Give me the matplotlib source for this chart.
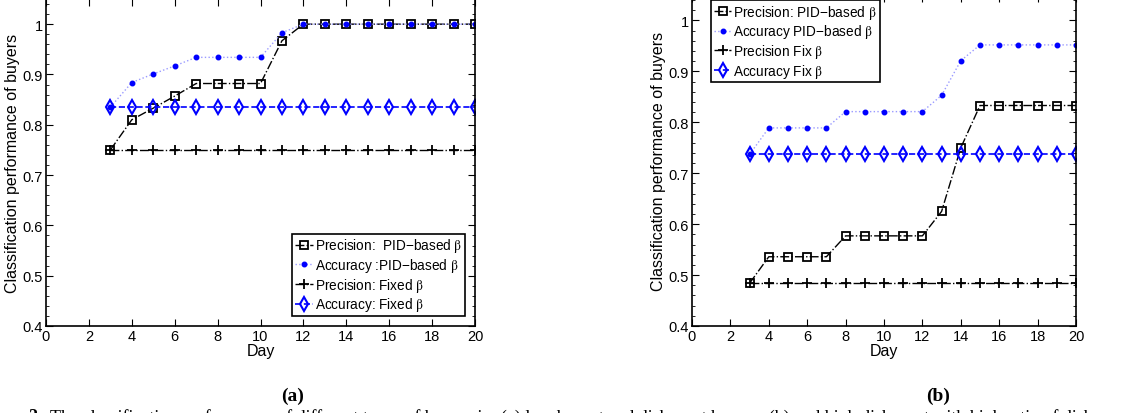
import matplotlib
matplotlib.use('Agg')
import matplotlib.pyplot as plt
from matplotlib.ticker import MultipleLocator

plt.rcParams['font.family'] = ['Liberation Sans', 'DejaVu Sans']
plt.rcParams['mathtext.fontset'] = 'stix'

days = list(range(3, 21))

# (a)
prec_pid_a = [0.75, 0.81, 0.833, 0.857, 0.882, 0.882, 0.882, 0.882, 0.967,
              1, 1, 1, 1, 1, 1, 1, 1, 1]
acc_pid_a = [0.835, 0.884, 0.901, 0.917, 0.934, 0.934, 0.934, 0.934, 0.983,
             1, 1, 1, 1, 1, 1, 1, 1, 1]
prec_fix_a = [0.75] * 18
acc_fix_a = [0.835] * 18
labels_a = ['Precision:  PID\u2212based $\\mathrm{\\beta}$', 'Accuracy :PID\u2212based $\\mathrm{\\beta}$',
            'Precision: Fixed $\\mathrm{\\beta}$', 'Accuracy: Fixed $\\mathrm{\\beta}$']

# (b)
prec_pid_b = [0.484, 0.536, 0.536, 0.536, 0.536, 0.577, 0.577, 0.577, 0.577, 0.577,
              0.625, 0.75, 0.833, 0.833, 0.833, 0.833, 0.833, 0.833]
acc_pid_b = [0.737, 0.789, 0.789, 0.789, 0.789, 0.821, 0.821, 0.821, 0.821, 0.821,
             0.853, 0.921, 0.952, 0.952, 0.952, 0.952, 0.952, 0.952]
prec_fix_b = [0.484] * 18
acc_fix_b = [0.737] * 18
labels_b = ['Precision: PID\u2212based $\\mathrm{\\beta}$', 'Accuracy PID\u2212based $\\mathrm{\\beta}$',
            'Precision Fix $\\mathrm{\\beta}$', 'Accuracy Fix $\\mathrm{\\beta}$']

fig = plt.figure(figsize=(11.27, 4.14), dpi=100)
ax1 = fig.add_axes([46 / 1127, 87 / 414, 429 / 1127, 327 / 414])
ax2 = fig.add_axes([692 / 1127, 87 / 414, 384 / 1127, 331 / 414])


def draw(ax, pp, ap, pf, af, labels):
    ax.plot(days, pp, color='black', ls='-.', lw=1, marker='s', ms=5.5,
            mfc='none', mec='black', mew=1.3, label=labels[0])
    ax.plot(days, ap, color='#9a9aff', ls=':', lw=1, marker='.', ms=6.5,
            mfc='#0000ff', mec='#0000ff', label=labels[1])
    ax.plot(days, pf, color='black', ls='-.', lw=1, marker='+', ms=7.5,
            mew=1.3, label=labels[2])
    ax.plot(days, af, color='#0000ff', ls='--', lw=1.2, marker='d', ms=7,
            mfc='none', mec='#0000ff', mew=1.5, label=labels[3])
    ax.set_xlim(0, 20)
    ax.set_ylim(0.4, 1.05)
    ax.xaxis.set_major_locator(MultipleLocator(2))
    ax.yaxis.set_minor_locator(MultipleLocator(0.02))
    ax.set_yticks([0.4, 0.5, 0.6, 0.7, 0.8, 0.9, 1.0])
    ax.set_yticklabels(['0.4', '0.5', '0.6', '0.7', '0.8', '0.9', '1'])
    ax.tick_params(which='both', direction='in', top=True, right=True, labelsize=10.5, pad=2)
    ax.tick_params(which='major', length=5)
    ax.tick_params(which='minor', length=2.5)
    ax.set_xlabel('Day', fontsize=11.5, labelpad=0)
    ax.set_ylabel('Classification performance of buyers', fontsize=11.5, labelpad=2)
    for s in ax.spines.values():
        s.set_linewidth(1.2)


def legend(ax, loc, anchor):
    leg = ax.legend(loc=loc, bbox_to_anchor=anchor, fontsize=9.8, handlelength=1.3,
                    handletextpad=0.15, labelspacing=0.12, borderpad=0.2, borderaxespad=0,
                    fancybox=False, framealpha=1, edgecolor='black')
    leg.get_frame().set_linewidth(1.2)


draw(ax1, prec_pid_a, acc_pid_a, prec_fix_a, acc_fix_a, labels_a)
draw(ax2, prec_pid_b, acc_pid_b, prec_fix_b, acc_fix_b, labels_b)
legend(ax1, 'lower right', (1 - 10 / 429, 10 / 327))
legend(ax2, 'upper left', (19 / 384, 1 - 5 / 331))

fig.text(293 / 1127, 1 - 396 / 414, '(a)', ha='center', va='center',
         fontsize=14, fontweight='bold', family='Liberation Serif')
fig.text(938 / 1127, 1 - 396 / 414, '(b)', ha='center', va='center',
         fontsize=14, fontweight='bold', family='Liberation Serif')
fig.text(28 / 1127, 1 - 409 / 414, '2.', ha='left', va='top',
         fontsize=13, fontweight='bold', family='Liberation Serif')
fig.text(50 / 1127, 1 - 409 / 414,
         'The classification performance of different types of buyers in: (a) low honest and dishonest buyers; '
         '(b) and high dishonest with high ratio of dishonest buyers',
         ha='left', va='top', fontsize=13, family='Liberation Serif')

fig.savefig('out.png', dpi=100)
